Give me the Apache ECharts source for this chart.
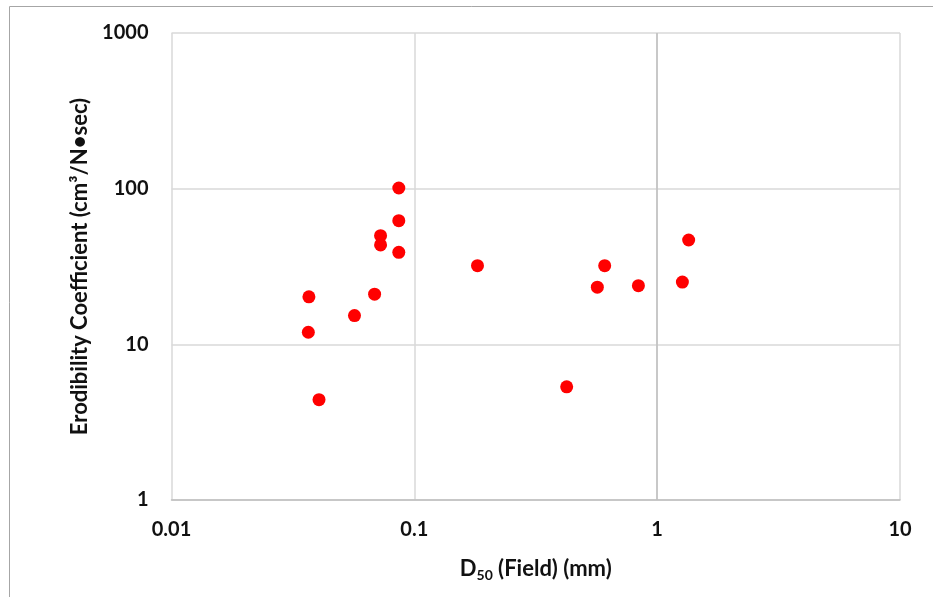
<!DOCTYPE html>
<html>
<head>
<meta charset="utf-8">
<script src="https://cdn.jsdelivr.net/npm/echarts@6/dist/echarts.min.js"></script>
<style>
html,body{margin:0;padding:0;background:#fff;}
#chart{width:933px;height:597px;}
</style>
</head>
<body>
<div id="chart"></div>
<script>
// D50 (Field) in mm
const d50 = [0.0863, 0.0863, 0.0726, 0.0726, 0.0863, 0.182, 0.0368, 0.0686, 0.0567, 0.0366, 0.0405, 1.348, 0.608, 0.567, 0.837, 1.27, 0.424];
// Erodibility coefficient (cm3/N-sec)
const erod = [101, 62.3, 49.9, 43.5, 39.0, 32.0, 20.2, 21.0, 15.3, 11.96, 4.41, 46.8, 32.0, 23.3, 23.8, 25.1, 5.33];
const xTicks = ['0.01', '0.1', '1', '10'];
const yTicks = ['1', '10', '100', '1000'];

const pts = d50.map((v, i) => [v, erod[i]]);
const FONT = 'Lato, "Open Sans", sans-serif';
const TXT = '#111111';

const chart = echarts.init(document.getElementById('chart'), null, {renderer: 'canvas'});
chart.setOption({
  animation: false,
  backgroundColor: '#fff',
  graphic: [{
    type: 'rect',
    shape: {x: 9.5, y: 6.5, width: 1000, height: 1000},
    style: {fill: 'none', stroke: '#a6a6a6', lineWidth: 1},
    silent: true, z: -1
  }],
  grid: {left: 171.5, right: 33, top: 33, bottom: 97, containLabel: false},
  xAxis: {
    type: 'log', logBase: 10, min: 0.01, max: 10,
    axisLine: {show: true, lineStyle: {color: '#bfbfbf', width: 1.5}},
    axisTick: {show: false},
    splitLine: {show: true, lineStyle: {color: '#d9d9d9', width: 1.5}},
    axisLabel: {
      margin: 20, fontSize: 20, fontWeight: 'bold', color: TXT, fontFamily: FONT,
      formatter: v => { const s = xTicks.find(t => Math.abs(parseFloat(t) - v) < 1e-9 * Math.max(1, v)); return s || ''; }
    },
    name: '{a|D}{s|50}{a| (Field) (mm)}',
    nameLocation: 'middle', nameGap: 56,
    nameTextStyle: {
      rich: {
        a: {fontSize: 22, fontWeight: 'bold', color: TXT, fontFamily: FONT},
        s: {fontSize: 14, fontWeight: 'bold', color: TXT, fontFamily: FONT, padding: [12, 0, 0, 0]}
      }
    }
  },
  yAxis: {
    type: 'log', logBase: 10, min: 1, max: 1000,
    axisLine: {show: false},
    axisTick: {show: false},
    splitLine: {show: true, lineStyle: {color: '#d9d9d9', width: 1.5}},
    axisLabel: {
      margin: 23, fontSize: 20, fontWeight: 'bold', color: TXT, fontFamily: FONT,
      formatter: v => { const s = yTicks.find(t => Math.abs(parseFloat(t) - v) < 1e-6 * v); return s || ''; }
    },
    name: 'Erodibility Coefficient (cm³/N•sec)',
    nameLocation: 'middle', nameGap: 76, nameRotate: 90,
    nameTextStyle: {fontSize: 22, fontWeight: 'bold', color: TXT, fontFamily: FONT}
  },
  series: [{
    type: 'scatter',
    data: pts,
    symbol: 'circle',
    symbolSize: 13,
    itemStyle: {color: '#ff0000', opacity: 1},
    markLine: {
      silent: true, symbol: 'none', label: {show: false},
      lineStyle: {color: '#bfbfbf', width: 1.5, type: 'solid'},
      data: [{xAxis: 1}],
      z: 1
    },
    z: 3
  }]
});
</script>
</body>
</html>
